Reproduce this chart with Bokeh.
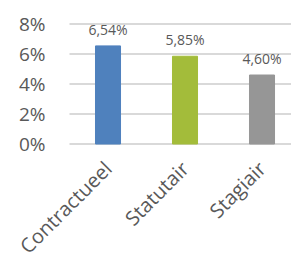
from bokeh.plotting import figure
from bokeh.models import ColumnDataSource, Range1d, LabelSet
from bokeh.core.properties import value
from bokeh.embed import file_html
from bokeh.resources import INLINE

categories = ["Contractueel", "Statutair", "Stagiair"]
values = [6.54, 5.85, 4.60]
labels = ["6,54%", "5,85%", "4,60%"]
colors = ["#4F81BD", "#A3BC3A", "#969696"]
y_ticks = [0, 2, 4, 6, 8]
y_tick_labels = ["0%", "2%", "4%", "6%", "8%"]

# plot-area category span and full-canvas ranges (77 px per category, 15 px per %)
cat_start, cat_end = -0.5, 2.383
x_start = cat_start - 69 / 77
y_start, y_end = -(260 - 143.5) / 15, 143.5 / 15

xs = list(range(len(categories)))
src = ColumnDataSource(dict(x=xs, top=values, label=labels, color=colors,
                            cat=categories, zero=[0] * len(xs)))
grid_src = ColumnDataSource(dict(y=y_ticks, lab=y_tick_labels,
                                 x0=[cat_start] * len(y_ticks),
                                 x1=[cat_end] * len(y_ticks),
                                 xl=[x_start] * len(y_ticks)))

p = figure(width=291, height=260, output_backend="svg", toolbar_location=None,
           x_range=Range1d(x_start, cat_end), y_range=Range1d(y_start, y_end),
           min_border=0, x_axis_location=None, y_axis_location=None)
p.outline_line_color = None
p.grid.visible = False
p.background_fill_color = "white"
p.border_fill_color = "white"

# horizontal gridlines
p.segment(x0="x0", x1="x1", y0="y", y1="y", source=grid_src,
          line_color="#D9D9D9", line_width=2)

# bars
p.vbar(x="x", top="top", bottom=0, width=0.325, color="color", source=src)

# value labels
p.add_layout(LabelSet(x="x", y="top", text="label", source=src, text_align="center",
                      text_baseline="bottom", y_offset=7, text_font=value("Open Sans"),
                      text_font_size="14px", text_color="#595959"))

# y tick labels
p.add_layout(LabelSet(x="xl", y="y", text="lab", source=grid_src, text_align="right",
                      text_baseline="middle", x_offset=45, text_font=value("Open Sans"),
                      text_font_size="19px", text_color="#595959"))

# category labels rotated 45 degrees
p.add_layout(LabelSet(x="x", y="zero", text="cat", source=src, text_align="right",
                      text_baseline="middle", y_offset=-21, angle=45, angle_units="deg",
                      text_font=value("Open Sans"), text_font_size="20px",
                      text_color="#595959"))

open("out.html", "w").write(file_html(p, INLINE))
